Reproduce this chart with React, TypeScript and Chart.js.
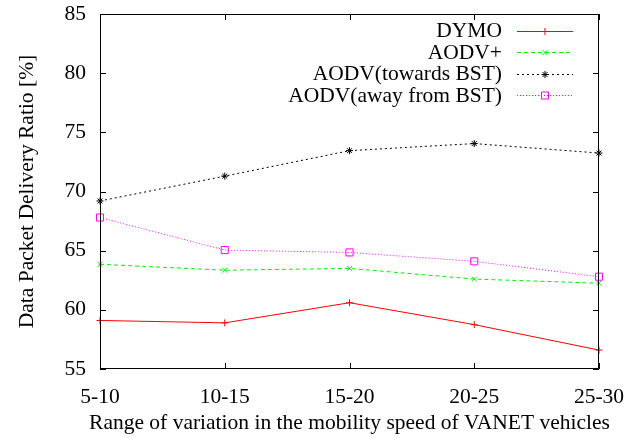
import React, { useEffect, useRef } from "react";
import { Chart, registerables } from "chart.js";
import { drawPoint } from "chart.js/helpers";

Chart.register(...registerables);

const categories = ["5-10", "10-15", "15-20", "20-25", "25-30"];
const dymo = [59.1, 58.9, 60.6, 58.75, 56.6];
const aodvPlus = [63.85, 63.35, 63.5, 62.6, 62.25];
const aodvTowards = [69.2, 71.3, 73.45, 74.05, 73.25];
const aodvAway = [67.8, 65.05, 64.85, 64.1, 62.8];
const seriesLabels = ["DYMO", "AODV+", "AODV(towards BST)", "AODV(away from BST)"];
const yMin = 55;
const yMax = 85;
const yStep = 5;
const xTitle = "Range of variation in the mobility speed of VANET vehicles";
const yTitle = "Data Packet Delivery Ratio [%]";

const FONT = "Liberation Serif, Times New Roman, serif";
const FONT_SIZE = 21.5;

const framePlugin = {
  id: "gnuplotFrame",
  afterDatasetsDraw(chart: any) {
    const { ctx, chartArea } = chart;
    const { left, right, top, bottom } = chartArea;
    const xs = chart.scales.x;
    const ys = chart.scales.y;
    ctx.save();
    ctx.strokeStyle = "#000";
    ctx.lineWidth = 1;
    ctx.setLineDash([]);
    ctx.beginPath();
    ctx.rect(left + 0.5, top + 0.5, right - left - 1, bottom - top - 1);
    ctx.stroke();
    const tl = 6;
    ctx.beginPath();
    ys.ticks.forEach((t: any) => {
      const y = Math.round(ys.getPixelForValue(t.value)) + 0.5;
      ctx.moveTo(left, y);
      ctx.lineTo(left + tl, y);
      ctx.moveTo(right, y);
      ctx.lineTo(right - tl, y);
    });
    xs.ticks.forEach((_t: any, i: number) => {
      const x = Math.round(xs.getPixelForTick(i)) + 0.5;
      ctx.moveTo(x, bottom);
      ctx.lineTo(x, bottom - tl);
      ctx.moveTo(x, top);
      ctx.lineTo(x, top + tl);
    });
    ctx.stroke();

    // axis titles
    ctx.fillStyle = "#000";
    ctx.font = `${FONT_SIZE}px ${FONT}`;
    ctx.textAlign = "center";
    ctx.textBaseline = "middle";
    ctx.fillText(xTitle, (left + right) / 2, 423);
    ctx.save();
    ctx.translate(27, (top + bottom) / 2);
    ctx.rotate(-Math.PI / 2);
    ctx.fillText(yTitle, 0, 0);
    ctx.restore();

    // legend
    chart.data.datasets.forEach((ds: any, i: number) => {
      const y = 30.7 + i * 21.4;
      ctx.fillStyle = "#000";
      ctx.textAlign = "right";
      ctx.textBaseline = "middle";
      ctx.fillText(ds.label, 502, y + 1);
      ctx.strokeStyle = ds.borderColor;
      ctx.lineWidth = ds.borderWidth;
      ctx.setLineDash(ds.borderDash || []);
      ctx.beginPath();
      ctx.moveTo(517, Math.round(y) + 0.5);
      ctx.lineTo(573, Math.round(y) + 0.5);
      ctx.stroke();
      ctx.setLineDash([]);
      ctx.strokeStyle = ds.pointBorderColor;
      ctx.fillStyle = "rgba(0,0,0,0)";
      ctx.lineWidth = 1;
      drawPoint(ctx, { pointStyle: ds.pointStyle, radius: ds.pointRadius, rotation: 0, borderWidth: 1 }, 545, Math.round(y) + 0.5);
    });
    ctx.restore();
  },
};

function makeDs(label: string, data: number[], color: string, dash: number[], style: string, radius: number) {
  return {
    label,
    data,
    borderColor: color,
    backgroundColor: "rgba(0,0,0,0)",
    pointBorderColor: color,
    pointBackgroundColor: "rgba(0,0,0,0)",
    borderWidth: 1,
    borderDash: dash,
    pointStyle: style,
    pointRadius: radius,
    pointBorderWidth: 1,
    tension: 0,
    fill: false,
  };
}

export default function App() {
  const ref = useRef<HTMLCanvasElement>(null);
  useEffect(() => {
    document.body.style.margin = "0";
    const canvas = ref.current!;
    const chart = new Chart(canvas, {
      type: "line",
      data: {
        labels: categories,
        datasets: [
          makeDs(seriesLabels[0], dymo, "#ff0000", [], "cross", 3.5),
          makeDs(seriesLabels[1], aodvPlus, "#00f000", [4, 3], "crossRot", 3.5),
          makeDs(seriesLabels[2], aodvTowards, "#000000", [2, 3], "star", 3.5),
          makeDs(seriesLabels[3], aodvAway, "#ff00ff", [1, 2], "rect", 5),
        ] as any,
      },
      options: {
        animation: false,
        responsive: false,
        devicePixelRatio: 1,
        layout: { padding: { left: 0, right: 39, top: 14, bottom: 0 } },
        plugins: { legend: { display: false }, tooltip: { enabled: false }, title: { display: false } },
        scales: {
          x: {
            type: "category",
            offset: false,
            grid: { display: false, drawTicks: false },
            border: { display: false },
            ticks: {
              color: "#000",
              font: { family: FONT, size: FONT_SIZE },
              padding: 15,
              autoSkip: false,
              maxRotation: 0,
            },
            afterFit: (s: any) => {
              s.height = 69;
              s.paddingLeft = 0;
              s.paddingRight = 0;
            },
          },
          y: {
            type: "linear",
            min: yMin,
            max: yMax,
            grid: { display: false, drawTicks: false },
            border: { display: false },
            ticks: {
              stepSize: yStep,
              color: "#000",
              font: { family: FONT, size: FONT_SIZE },
              padding: 14,
            },
            afterFit: (s: any) => {
              s.width = 100;
              s.paddingTop = 0;
              s.paddingBottom = 0;
            },
          },
        },
      },
      plugins: [framePlugin],
    });
    return () => chart.destroy();
  }, []);
  return (
    <div style={{ width: 638, height: 438 }}>
      <canvas ref={ref} width={638} height={438} style={{ display: "block" }} />
    </div>
  );
}
